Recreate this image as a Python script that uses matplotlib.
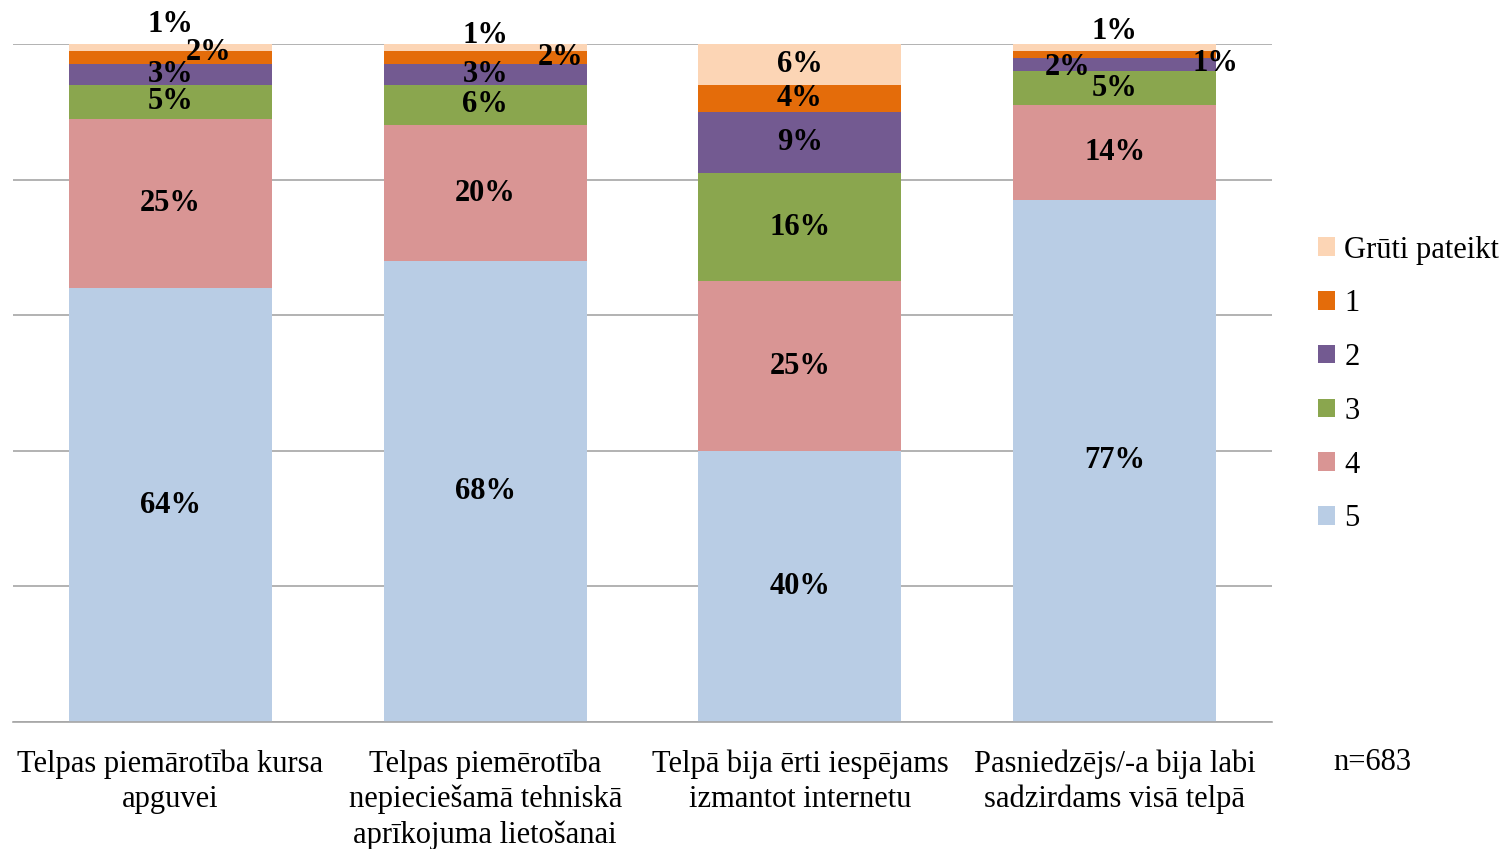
import matplotlib
matplotlib.use('Agg')
import matplotlib.pyplot as plt
from matplotlib.patches import Patch
import numpy as np

plt.rcParams['font.family'] = ['Liberation Serif', 'DejaVu Serif']

# data
categories = ['Telpas piemārotība kursa\napguvei',
              'Telpas piemērotība\nnepieciešamā tehniskā\naprīkojuma lietošanai',
              'Telpā bija ērti iespējams\nizmantot internetu',
              'Pasniedzējs/-a bija labi\nsadzirdams visā telpā']
series_names = ['5', '4', '3', '2', '1', 'Grūti pateikt']
vals_5 = [64, 68, 40, 77]
vals_4 = [25, 20, 25, 14]
vals_3 = [5, 6, 16, 5]
vals_2 = [3, 3, 9, 2]
vals_1 = [2, 2, 4, 1]
vals_gp = [1, 1, 6, 1]
series = [vals_5, vals_4, vals_3, vals_2, vals_1, vals_gp]
colors = ['#B9CDE5', '#D99594', '#8AA64E', '#735A91', '#E46C0A', '#FCD5B5']

# manual label nudges (bar, series) -> (dx in categories, dy in %), like Excel's overlap moves
nudge = {(0, 5): (0, 3.3), (0, 4): (0.12, 0.7),
         (1, 5): (0, 1.8), (1, 4): (0.24, 0),
         (3, 5): (0, 2.4), (3, 3): (-0.15, -0.5), (3, 4): (0.32, -1.4)}

fig = plt.figure(figsize=(15.03, 8.49), dpi=100)
ax = fig.add_axes([0.0087, 0.1496, 0.8376, 0.7986])

x = np.arange(len(categories))
bottom = np.zeros(len(categories))
for si, (vals, col) in enumerate(zip(series, colors)):
    ax.bar(x, vals, 0.645, bottom=bottom, color=col, zorder=2)
    for bi, v in enumerate(vals):
        dx, dy = nudge.get((bi, si), (0, 0))
        ax.text(x[bi] + dx, bottom[bi] + v / 2 + dy, '%d%%' % v, ha='center', va='center',
                fontsize=22, fontweight='bold', color='black', zorder=4)
    bottom += np.array(vals)

ax.set_xlim(-0.5, 3.5)
ax.set_ylim(0, 100)
ax.set_yticks(np.arange(0, 101, 20))
ax.yaxis.grid(True, color='#a6a6a6', linewidth=1.2, zorder=0)
ax.set_axisbelow(True)
ax.tick_params(left=False, labelleft=False, bottom=False)
ax.set_xticks(x)
ax.set_xticklabels(categories, fontsize=22, linespacing=1.27)
ax.tick_params(axis='x', pad=16)
for s in ['top', 'right', 'left']:
    ax.spines[s].set_visible(False)
ax.spines['bottom'].set_color('#a6a6a6')
ax.spines['bottom'].set_linewidth(1.2)

handles = [Patch(facecolor=c, label=n) for n, c in zip(series_names, colors)][::-1]
fig.legend(handles=handles, loc='upper left', bbox_to_anchor=(0.869, 0.737), frameon=False,
           fontsize=22, handlelength=0.55, handleheight=0.55, handletextpad=0.3,
           labelspacing=0.81, borderaxespad=0)

fig.text(0.913, 0.102, 'n=683', fontsize=22, ha='center', va='center')

fig.savefig('out.png', dpi=100)
